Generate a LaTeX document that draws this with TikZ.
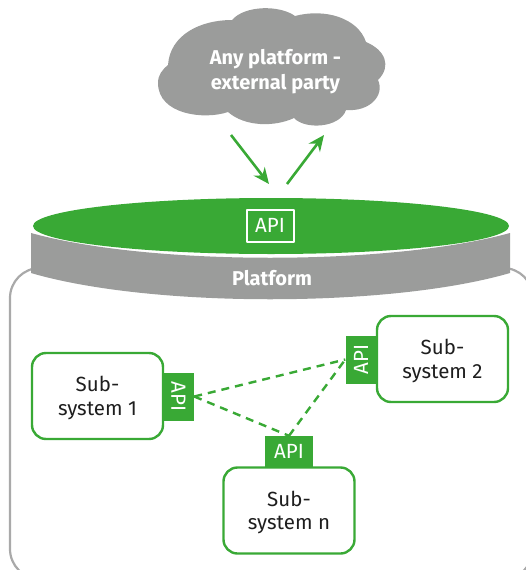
\documentclass[tikz,border=0pt]{standalone}
\usepackage{fontspec}
\setmainfont{Fira Sans}
\usetikzlibrary{arrows.meta,shapes.geometric}
\definecolor{apigreen}{HTML}{39A935}
\definecolor{platgray}{HTML}{9B9C9B}
\definecolor{wallgray}{HTML}{A9A9A9}
\definecolor{inkblack}{HTML}{1E1E1E}
\tikzset{
	subsys/.style={draw=apigreen,line width=2.4pt,fill=white,rounded corners=14pt,minimum width=131pt,minimum height=86pt,inner sep=0pt,align=center,text=inkblack,text depth=0pt,font=\fontsize{20.5}{23.5}\selectfont},
	apitab/.style={fill=apigreen,minimum width=48pt,minimum height=31pt,inner sep=0pt,text=white,font=\fontsize{20.5}{22}\selectfont},
	whitelabel/.style={text=white,align=center,inner sep=0pt,font=\fontsize{20}{24.5}\selectfont\bfseries},
	apilink/.style={draw=apigreen,line width=2.4pt,dash pattern=on 8pt off 6pt},
	flowarrow/.style={draw=apigreen,line width=2.6pt,->},
}
\begin{document}
\begin{tikzpicture}[>={Stealth[length=16pt,width=14pt]},line join=round,x=1pt,y=-1pt]
	\clip (0,0) rectangle (526,570);
	% housing behind the disc
	\draw[wallgray,line width=2.2pt,rounded corners=30pt] (10,268) rectangle (533,579);
	% cloud
	\fill[platgray] (232,20) .. controls (245,5) and (280,5) .. (295,16)
		.. controls (325,8) and (358,18) .. (366,42)
		.. controls (385,50) and (392,66) .. (378,80)
		.. controls (385,95) and (370,112) .. (346,110)
		.. controls (340,128) and (305,130) .. (294,118)
		.. controls (275,127) and (245,127) .. (228,112)
		.. controls (205,120) and (158,115) .. (158,83)
		.. controls (158,75) and (162,70) .. (168,65)
		.. controls (170,35) and (200,20) .. (232,20) -- cycle;
	\node[whitelabel] (cloudtext) at (275.5,71.5) {Any platform -\\external party};
	% disc
	\fill[platgray] (31,233) .. controls (150,266) and (390,266) .. (510,233) -- (510,273)
		.. controls (390,308) and (150,308) .. (31,273) -- cycle;
	\node[ellipse,fill=apigreen,minimum width=476pt,minimum height=56pt,inner sep=0pt] (disc) at (271,226) {};
	\node[draw=white,line width=2pt,minimum width=47pt,minimum height=32pt,inner sep=0pt,text=white,font=\fontsize{20.5}{22}\selectfont] (discapi) at (270,225.5) {API};
	\node[whitelabel] (platform) at (272,278) {Platform};
	% arrows
	\coordinate (inStart) at (231,135);
	\coordinate (inEnd) at (269,184);
	\coordinate (outStart) at (287,184);
	\coordinate (outEnd) at (324,135);
	\draw[flowarrow] (inStart)--(inEnd);
	\draw[flowarrow] (outStart)--(outEnd);
	% subsystems
	\foreach \nm/\cx/\cy/\num in {sysa/97.5/396/1,sysb/442.5/359/2,sysn/289/510.5/n}{
		\node[subsys] (\nm) at (\cx,\cy) {Sub-\\system \num};
	}
	\node[apitab,rotate=-90] (apia) at (178.5,396.5) {API};
	\node[apitab,rotate=90] (apib) at (361,359.5) {API};
	\node[apitab] (apin) at (289,451.5) {API};
	\draw[apilink] (apia.north)--(apib.north);
	\draw[apilink] (apia.north)--(apin.north);
	\draw[apilink] (apin.north)--(apib.north);
\end{tikzpicture}
\end{document}
